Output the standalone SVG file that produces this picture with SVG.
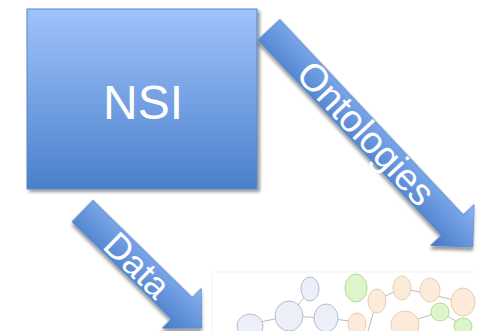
<svg xmlns="http://www.w3.org/2000/svg" width="477" height="331" viewBox="0 0 477 331">
<style>
.lbl{font-family:"Liberation Sans",Arial,sans-serif;fill:#ffffff;text-anchor:middle}
.ln{stroke:#a4a8ae;stroke-width:0.8;fill:none}
.lav{fill:#eceef8;stroke:#b6bcd4;stroke-width:1}
.grn{fill:#ddf5ca;stroke:#aadf8c;stroke-width:1}
.pch{fill:#fcebdb;stroke:#ebcdae;stroke-width:1}
</style>
<defs>
<linearGradient id="boxg" x1="0" y1="0" x2="0" y2="1">
<stop offset="0" stop-color="#9fc3fc"/>
<stop offset="1" stop-color="#4a80cb"/>
</linearGradient>
<linearGradient id="arrg" gradientUnits="userSpaceOnUse" x1="0" y1="-30" x2="0" y2="30">
<stop offset="0" stop-color="#8cb5f3"/>
<stop offset="1" stop-color="#4277c6"/>
</linearGradient>
<filter id="sh" x="-20%" y="-20%" width="140%" height="140%">
<feDropShadow dx="2.5" dy="2.5" stdDeviation="1.8" flood-color="#000" flood-opacity="0.4"/>
</filter>
<filter id="bl" x="-5%" y="-5%" width="110%" height="110%">
<feGaussianBlur stdDeviation="0.6"/>
</filter>
</defs>
<rect width="477" height="331" fill="#ffffff"/>
<g id="ontology-graph" filter="url(#bl)">
<rect x="212" y="272" width="266" height="62" fill="#ffffff" stroke="#f0f0f0" stroke-width="0.8"/>
<g class="ln">
<line x1="260" y1="322" x2="289" y2="316"/>
<line x1="289" y1="316" x2="310" y2="290"/>
<line x1="289" y1="316" x2="326" y2="318"/>
<line x1="326" y1="318" x2="357" y2="322"/>
<line x1="377" y1="300" x2="402" y2="288"/>
<line x1="402" y1="288" x2="463" y2="302"/>
<line x1="405" y1="323" x2="440" y2="312"/>
<line x1="440" y1="312" x2="463" y2="325"/>
<line x1="377" y1="300" x2="368" y2="331"/>
</g>
<ellipse class="lav" cx="310" cy="289" rx="9" ry="12"/>
<ellipse class="lav" cx="289" cy="316" rx="14" ry="15"/>
<ellipse class="lav" cx="326" cy="318" rx="12" ry="14"/>
<ellipse class="lav" cx="250" cy="326" rx="13" ry="12"/>
<ellipse class="grn" cx="356" cy="288" rx="11" ry="14"/>
<ellipse class="pch" cx="357" cy="324" rx="9" ry="11"/>
<ellipse class="pch" cx="377" cy="301" rx="9" ry="12"/>
<ellipse class="pch" cx="402" cy="288" rx="9" ry="12"/>
<ellipse class="pch" cx="405" cy="325" rx="14" ry="14"/>
<ellipse class="pch" cx="430" cy="290" rx="10" ry="12"/>
<ellipse class="grn" cx="440" cy="312" rx="9" ry="9"/>
<ellipse class="pch" cx="463" cy="302" rx="12" ry="14"/>
<ellipse class="grn" cx="463" cy="326" rx="9" ry="8"/>
</g>
<g id="NSI">
<rect x="27" y="9" width="230" height="180" fill="url(#boxg)" stroke="#5a86c4" stroke-width="1" filter="url(#sh)"/>
<text class="lbl" x="143" y="119" font-size="48">NSI</text>
</g>
<g id="connectors">
<g id="arrow-ontologies" transform="translate(268.9,29.7) rotate(46.8)">
<path d="M0,-15 H268 V-30 L298,0 L268,30 V15 H0 Z" fill="url(#arrg)" stroke="#4f7fc0" stroke-width="0.8" filter="url(#sh)"/>
<text class="lbl" x="142" y="13" font-size="38">Ontologies</text>
</g>
<g id="arrow-data" transform="translate(82.5,211) rotate(44.4)">
<path d="M0,-15 H139 V-28 L167,0 L139,28 V15 H0 Z" fill="url(#arrg)" stroke="#4f7fc0" stroke-width="0.8" filter="url(#sh)"/>
<text class="lbl" x="77" y="13" font-size="36">Data</text>
</g>
</g>
</svg>
